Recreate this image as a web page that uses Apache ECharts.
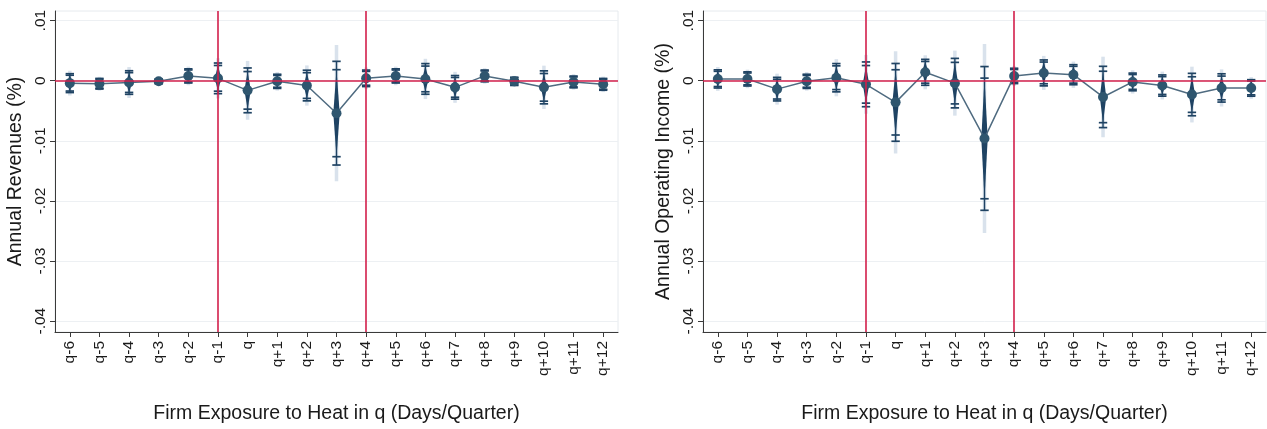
<!DOCTYPE html>
<html>
<head>
<meta charset="utf-8">
<script src="https://cdn.jsdelivr.net/npm/echarts@6/dist/echarts.min.js"></script>
<style>
html,body{margin:0;padding:0;background:#fff;}
#c{width:1267px;height:429px;}
</style>
</head>
<body>
<div id="c"></div>
<script>
// ---- data ----
const categories = ['q-6','q-5','q-4','q-3','q-2','q-1','q','q+1','q+2','q+3','q+4','q+5','q+6','q+7','q+8','q+9','q+10','q+11','q+12'];
const yTicks = [-0.04,-0.03,-0.02,-0.01,0,0.01];

// Annual Revenues: point estimates and standard errors
const revCoef = [-0.0004,-0.0005,-0.0003,-0.0001,0.0008,0.0004,-0.0016,-0.0001,-0.0008,-0.0054,0.0004,0.0008,0.0003,-0.0011,0.0008,-0.0001,-0.0011,-0.0002,-0.0006];
const revSE   = [0.0008,0.00045,0.001,0.0002,0.0006,0.0013,0.0019,0.0006,0.0013,0.0044,0.0007,0.0006,0.0013,0.001,0.0005,0.00035,0.0014,0.0005,0.0005];

// Annual Operating Income: point estimates and standard errors
const incCoef = [0.0003,0.0003,-0.0014,-0.0001,0.0005,-0.0006,-0.0036,0.0014,-0.0004,-0.0096,0.0008,0.0013,0.001,-0.0027,-0.0002,-0.0008,-0.0023,-0.0012,-0.0012];
const incSE   = [0.00077,0.0006,0.001,0.0006,0.0012,0.0019,0.0033,0.0011,0.0021,0.0061,0.00065,0.0011,0.00085,0.0026,0.00075,0.0009,0.0018,0.0012,0.0007];

const eventLines = ['q-1','q+4'];
const xTitle = 'Firm Exposure to Heat in q (Days/Quarter)';
const yTitles = ['Annual Revenues (%)','Annual Operating Income (%)'];

// confidence levels (99%, 95%, 90%)
const Z99 = 2.576, Z95 = 1.96, Z90 = 1.645;

// ---- styles ----
const FONT = '"Liberation Sans", Arial, sans-serif';
const AXIS = '#3a3a3a';
const RED = '#d21f4b';
const DARK = '#1f4363';
const MARK = '#2f566f';

function fmt(v){
  if (Math.abs(v) < 1e-9) return '0';
  return (v < 0 ? '-' : '') + Math.abs(v).toFixed(2).replace(/^0/, '');
}

function renderItem(params, api){
  const x = api.value(0), c = api.value(1), se = api.value(2);
  const y = v => api.coord([x, v])[1];
  const cx = api.coord([x, c])[0];
  const yc = y(c);
  const cap = 4.2;
  const ch = [];
  ch.push({type:'line', shape:{x1:cx,y1:y(c+Z99*se),x2:cx,y2:y(c-Z99*se)},
           style:{stroke:'rgba(185,203,220,0.55)', lineWidth:3.5}});
  ch.push({type:'line', shape:{x1:cx,y1:y(c+Z95*se),x2:cx,y2:y(c-Z95*se)},
           style:{stroke:DARK, lineWidth:1.4}});
  [Z95, Z90].forEach(z => {
    [c+z*se, c-z*se].forEach(v => {
      const yy = y(v);
      ch.push({type:'line', shape:{x1:cx-cap,y1:yy,x2:cx+cap,y2:yy},
               style:{stroke:DARK, lineWidth:1.7}});
    });
  });
  ch.push({type:'polygon', shape:{points:[[cx, y(c+Z90*se)],[cx+3.2, yc],[cx, y(c-Z90*se)],[cx-3.2, yc]]},
           style:{fill:DARK}});
  return {type:'group', children:ch};
}

function panel(i, coef, se){
  return [
    { // reference lines
      type:'line', xAxisIndex:i, yAxisIndex:i, data:[], z:1, silent:true,
      markLine:{
        symbol:['none','none'], silent:true, animation:false,
        label:{show:false},
        lineStyle:{color:RED, width:1.6, type:'solid'},
        emphasis:{disabled:true},
        data:[{yAxis:0}].concat(eventLines.map(e => ({xAxis:e})))
      }
    },
    {
      type:'custom', xAxisIndex:i, yAxisIndex:i, z:3, silent:true,
      renderItem: renderItem,
      encode:{x:0, y:1},
      data: coef.map((v, k) => [k, v, se[k]])
    },
    {
      type:'line', xAxisIndex:i, yAxisIndex:i, z:4, silent:true,
      data: coef,
      symbol:'circle', symbolSize:10,
      itemStyle:{color:MARK},
      lineStyle:{color:'#4f6b80', width:1.5}
    }
  ];
}

function xAxis(i){
  return {
    type:'category', gridIndex:i, data:categories, boundaryGap:true,
    axisLine:{show:true, onZero:false, lineStyle:{color:AXIS, width:1}},
    axisTick:{show:true, alignWithLabel:true, length:5, lineStyle:{color:AXIS}},
    axisLabel:{rotate:90, interval:0, margin:9, color:'#1a1a1a', fontFamily:FONT, fontSize:15.5},
    splitLine:{show:false},
    name:xTitle, nameLocation:'middle', nameGap:72,
    nameTextStyle:{color:'#1a1a1a', fontFamily:FONT, fontSize:19.5}
  };
}
function yAxis(i){
  return {
    type:'value', gridIndex:i, min:-0.0418, max:0.0116,
    axisLine:{show:true, lineStyle:{color:AXIS, width:1}},
    axisTick:{show:true, length:5, lineStyle:{color:AXIS}, customValues:yTicks},
    axisLabel:{rotate:90, margin:6, color:'#1a1a1a', fontFamily:FONT, fontSize:15.5,
               customValues:yTicks, formatter:fmt},
    splitLine:{show:true, lineStyle:{color:'#edf0f3', width:1}},
    name:yTitles[i], nameLocation:'middle', nameGap:29,
    nameTextStyle:{color:'#1a1a1a', fontFamily:FONT, fontSize:19.5}
  };
}

const chart = echarts.init(document.getElementById('c'), null, {renderer:'canvas'});
chart.setOption({
  animation:false,
  backgroundColor:'#ffffff',
  grid:[
    {left:55, top:11, width:563, height:321, show:true, borderColor:'#e6eaee', borderWidth:1, backgroundColor:'#fff'},
    {left:703, top:11, width:563, height:321, show:true, borderColor:'#e6eaee', borderWidth:1, backgroundColor:'#fff'}
  ],
  xAxis:[xAxis(0), xAxis(1)],
  yAxis:[yAxis(0), yAxis(1)],
  series: panel(0, revCoef, revSE).concat(panel(1, incCoef, incSE))
});
</script>
</body>
</html>
